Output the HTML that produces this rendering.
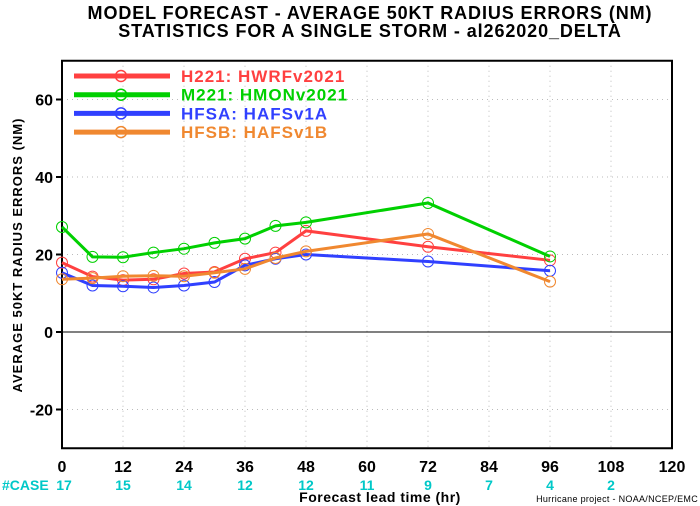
<!DOCTYPE html>
<html><head><meta charset="utf-8"><style>
body{margin:0;background:#fff;}
svg{display:block;font-family:"Liberation Sans",sans-serif;font-weight:bold;}
</style></head><body>
<svg id="c" width="700" height="506">
<g>
<text x="370" y="19" text-anchor="middle" font-size="18" letter-spacing="0.9" fill="#000">MODEL FORECAST - AVERAGE 50KT RADIUS ERRORS (NM)</text>
<text x="370" y="37" text-anchor="middle" font-size="18" letter-spacing="0.9" fill="#000">STATISTICS FOR A SINGLE STORM - al262020_DELTA</text>
</g>
<text transform="translate(22,255) rotate(-90)" text-anchor="middle" font-size="13" letter-spacing="1">AVERAGE 50KT RADIUS ERRORS (NM)</text>
<text x="380" y="502" text-anchor="middle" font-size="14" letter-spacing="0.5">Forecast lead time (hr)</text>
<text x="698" y="502" text-anchor="end" font-size="9" font-weight="normal" letter-spacing="0.3">Hurricane project - NOAA/NCEP/EMC</text>
<text x="2" y="490" font-size="14" fill="#00c8c8">#CASE</text>
<g id="grid"></g><g id="series"></g><g id="legend"></g>
</svg>
<script>
const hours=[0,6,12,18,24,30,36,42,48,72,96];
const hwrf=[17.9,14.3,13.4,13.6,15.1,15.5,18.9,20.5,26.1,22.0,18.5];
const hmon=[27.1,19.4,19.3,20.5,21.5,23.0,24.1,27.4,28.3,33.3,19.5];
const hfsa=[15.3,12.0,11.8,11.5,12.0,12.9,17.2,18.9,20.0,18.2,15.8];
const hfsb=[13.6,13.9,14.4,14.5,14.4,15.3,16.3,19.1,20.8,25.3,13.0];
const xTicks=[0,12,24,36,48,60,72,84,96,108,120];
const yTicks=[-20,0,20,40,60];
const caseHours=[0,12,24,36,48,60,72,84,96,108];
const caseCounts=[17,15,14,12,12,11,9,7,4,2];
const X=h=>62+h*(610/120);
const Y=v=>332-v*3.875;
const NS='http://www.w3.org/2000/svg';
function mk(t,a,p){const e=document.createElementNS(NS,t);for(const k in a)e.setAttribute(k,a[k]);p.appendChild(e);return e;}
const g=document.getElementById('grid');
const xL=62,xR=672,yT=Y(70),yB=Y(-30);
xTicks.forEach(h=>{
 if(h>0&&h<120){const l=mk('line',{x1:X(h),x2:X(h),y1:yT,y2:yB,stroke:'#bbb','stroke-dasharray':'1,4'},g);
 }
 const t=mk('text',{x:X(h),y:472,'text-anchor':'middle','font-size':'16'},g);t.textContent=h;
 
});
yTicks.forEach(v=>{
 if(v!==0){const l=mk('line',{x1:xL,x2:xR,y1:Y(v),y2:Y(v),stroke:'#bbb','stroke-dasharray':'1,4'},g);
 }
 const tk=mk('line',{x1:xL-6,x2:xL,y1:Y(v),y2:Y(v),stroke:'#000','stroke-width':2},g);
 
 const t=mk('text',{x:xL-9,y:Y(v)+6,'text-anchor':'end','font-size':'16'},g);t.textContent=v;
 
});
const z=mk('line',{x1:xL,x2:xR,y1:Y(0),y2:Y(0),stroke:'#000','stroke-width':1},g);

const fr=mk('rect',{x:xL,y:yT,width:xR-xL,height:yB-yT,fill:'none',stroke:'#000','stroke-width':2},g);

caseHours.forEach((h,i)=>{const t=mk('text',{x:X(h)+(h===0?2:0),y:490,'text-anchor':'middle','font-size':'14',fill:'#00c8c8'},g);
 t.textContent=caseCounts[i];});
const series=[['hwrf',hwrf,'#ff4040','H221: HWRFv2021'],['hmon',hmon,'#00d000','M221: HMONv2021'],['hfsa',hfsa,'#3040ff','HFSA: HAFSv1A'],['hfsb',hfsb,'#f08830','HFSB: HAFSv1B']];
const sg=document.getElementById('series'),lg=document.getElementById('legend');
series.forEach(([n,vals,c,lab],si)=>{
 const grp=mk('g',{},sg);
 const pl=mk('polyline',{points:vals.map((v,i)=>X(hours[i])+','+Y(v)).join(' '),fill:'none',stroke:c,'stroke-width':3},grp);
 
 vals.forEach((v,i)=>{const ci=mk('circle',{cx:X(hours[i]),cy:Y(v),r:5.5,fill:'none',stroke:c,'stroke-width':1},grp);
  });
 const ly=76+si*18.7;
 const le=mk('g',{},lg);
 mk('line',{x1:74,x2:170,y1:ly,y2:ly,stroke:c,'stroke-width':5},le);
 mk('circle',{cx:121,cy:ly,r:5.5,fill:'none',stroke:c,'stroke-width':1.5},le);
 const t=mk('text',{x:181,y:ly+6,'font-size':'17','letter-spacing':'1',fill:c},le);t.textContent=lab;
});
</script>
</body></html>
